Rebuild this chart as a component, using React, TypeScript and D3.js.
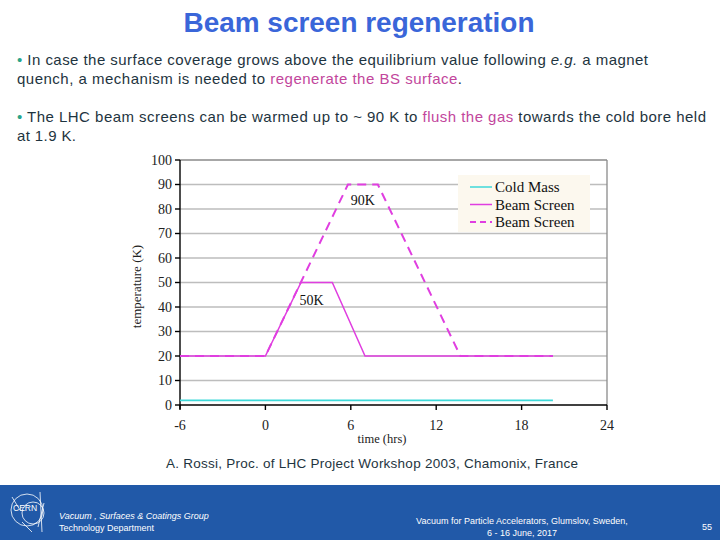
import React from "react";
import * as d3 from "d3";

type Pt = { t: number; v: number };

const coldMass: Pt[] = [
  { t: -6, v: 1.9 },
  { t: 20.2, v: 1.9 },
];
const beamScreen50: Pt[] = [
  { t: -6, v: 20 },
  { t: 0, v: 20 },
  { t: 2.5, v: 50 },
  { t: 4.7, v: 50 },
  { t: 7.0, v: 20 },
  { t: 20.2, v: 20 },
];
const beamScreen90: Pt[] = [
  { t: -6, v: 20 },
  { t: 0, v: 20 },
  { t: 5.8, v: 90 },
  { t: 7.9, v: 90 },
  { t: 13.7, v: 20 },
  { t: 20.2, v: 20 },
];
const xTicks = [-6, 0, 6, 12, 18, 24];
const yTicks = [0, 10, 20, 30, 40, 50, 60, 70, 80, 90, 100];
const legendLabels = ["Cold Mass", "Beam Screen", "Beam Screen"];

const SERIF = "'Liberation Serif', 'DejaVu Serif', serif";
const SANS = "'Liberation Sans', Arial, sans-serif";

export default function App() {
  const x = d3.scaleLinear().domain([-6, 24]).range([180, 607]);
  const y = d3.scaleLinear().domain([0, 100]).range([405, 160]);
  const line = d3
    .line<Pt>()
    .x((d) => x(d.t))
    .y((d) => y(d.v));

  const textColor = "#1e3440";
  const pink = "#c2469c";
  const bullet = "#2aa58a";
  const magenta = "#e03ee0";
  const cyan = "#3fd9d9";

  const legendStyles = [
    { stroke: cyan, dash: undefined as string | undefined, w: 1.5 },
    { stroke: magenta, dash: undefined, w: 1.5 },
    { stroke: magenta, dash: "6,4", w: 2.2 },
  ];

  return (
    <svg
      width={720}
      height={540}
      style={{ position: "absolute", left: 0, top: 0, background: "#fff" }}
    >
      <rect x={0} y={0} width={720} height={540} fill="#fff" />
      {/* Title */}
      <text
        x={359}
        y={32}
        textAnchor="middle"
        fontFamily={SANS}
        fontWeight="bold"
        fontSize={27.5}
        fill="#3a66d9"
        textLength={351}
        lengthAdjust="spacingAndGlyphs"
      >
        Beam screen regeneration
      </text>
      {/* Bullets */}
      <g fontFamily={SANS} fontSize={15} fill={textColor}>
        <text x={17} y={65} textLength={631} lengthAdjust="spacing">
          <tspan fill={bullet}>•</tspan> In case the surface coverage grows above the equilibrium value following{" "}
          <tspan fontStyle="italic">e.g.</tspan> a magnet
        </text>
        <text x={17} y={84} textLength={445} lengthAdjust="spacing">
          quench, a mechanism is needed to <tspan fill={pink}>regenerate the BS surface</tspan>.
        </text>
        <text x={17} y={122} textLength={689} lengthAdjust="spacing">
          <tspan fill={bullet}>•</tspan> The LHC beam screens can be warmed up to ~ 90 K to{" "}
          <tspan fill={pink}>flush the gas</tspan> towards the cold bore held
        </text>
        <text x={17} y={141} textLength={59} lengthAdjust="spacing">
          at 1.9 K.
        </text>
      </g>

      {/* Chart gridlines */}
      <g>
        {yTicks
          .filter((v) => v > 0)
          .map((v) => (
            <line
              key={"g" + v}
              x1={x(-6)}
              x2={x(24)}
              y1={y(v)}
              y2={y(v)}
              stroke={v === 100 ? "#8a8a8a" : "#bdbdbd"}
              strokeWidth={1.3}
            />
          ))}
        <line x1={x(24)} x2={x(24)} y1={y(0)} y2={y(100)} stroke="#8a8a8a" strokeWidth={1.3} />
      </g>

      {/* Axes */}
      <g stroke="#000" strokeWidth={1.4}>
        <line x1={x(-6)} x2={x(-6)} y1={y(0) + 4} y2={y(100)} />
        <line x1={x(-6)} x2={x(24)} y1={y(0)} y2={y(0)} />
        {yTicks.map((v) => (
          <line key={"yt" + v} x1={x(-6) - 5} x2={x(-6)} y1={y(v)} y2={y(v)} />
        ))}
        {xTicks.map((t) => (
          <line key={"xt" + t} x1={x(t)} x2={x(t)} y1={y(0)} y2={y(0) + 5} />
        ))}
      </g>
      <g fontFamily={SERIF} fontSize={14} fill="#222">
        {yTicks.map((v) => (
          <text key={"yl" + v} x={x(-6) - 8} y={y(v) + 4.5} textAnchor="end">
            {v}
          </text>
        ))}
        {xTicks.map((t) => (
          <text key={"xl" + t} x={x(t)} y={y(0) + 25} textAnchor="middle">
            {t}
          </text>
        ))}
        <text x={382} y={443} textAnchor="middle" fontSize={12.5}>
          time (hrs)
        </text>
        <text
          transform={`translate(141, ${y(50) + 4}) rotate(-90)`}
          textAnchor="middle"
          fontSize={13}
        >
          temperature (K)
        </text>
      </g>

      {/* Series */}
      <path d={line(coldMass) || ""} fill="none" stroke={cyan} strokeWidth={1.6} />
      <path d={line(beamScreen50) || ""} fill="none" stroke={magenta} strokeWidth={1.5} />
      <path
        d={line(beamScreen90) || ""}
        fill="none"
        stroke={magenta}
        strokeWidth={2}
        strokeDasharray="9,6"
      />

      {/* Annotations */}
      <g fontFamily={SERIF} fontSize={14} fill="#111">
        <text x={x(6.0)} y={y(81.5)}>
          90K
        </text>
        <text x={x(2.4)} y={y(41)}>
          50K
        </text>
      </g>

      {/* Legend */}
      <g>
        <rect x={458} y={175} width={132} height={57} fill="#fcf8ee" />
        {legendLabels.map((lab, i) => {
          const yy = 187 + i * 17.5;
          const s = legendStyles[i];
          return (
            <g key={"lg" + i}>
              <line
                x1={470}
                x2={492}
                y1={yy}
                y2={yy}
                stroke={s.stroke}
                strokeWidth={s.w}
                strokeDasharray={s.dash}
              />
              <text x={495} y={yy + 5} fontFamily={SERIF} fontSize={15} fill="#111">
                {lab}
              </text>
            </g>
          );
        })}
      </g>

      {/* Caption */}
      <text
        x={372}
        y={468}
        textAnchor="middle"
        fontFamily={SANS}
        fontSize={13.5}
        fill={textColor}
        textLength={412}
        lengthAdjust="spacing"
      >
        A. Rossi, Proc. of LHC Project Workshop 2003, Chamonix, France
      </text>

      {/* Footer */}
      <rect x={0} y={485} width={720} height={55} fill="#2159a8" />
      <g stroke="#fff" strokeWidth={0.8} fill="none">
        <circle cx={27} cy={510} r={16} />
        <circle cx={33} cy={513} r={11} />
        <path d="M40 492 L42 532 M44 503 L38 527" />
        <path d="M12 497 L20 510 M22 522 L32 532" />
      </g>
      <text x={13} y={511} fontFamily={SANS} fontSize={8.5} fill="#fff">
        CERN
      </text>
      <g fontFamily={SANS} fontSize={9} fill="#fff">
        <text x={59} y={519} fontStyle="italic">
          Vacuum , Surfaces &amp; Coatings Group
        </text>
        <text x={59} y={531}>
          Technology Department
        </text>
        <text x={522} y={524} textAnchor="middle">
          Vacuum for Particle Accelerators, Glumslov, Sweden,
        </text>
        <text x={522} y={536} textAnchor="middle">
          6 - 16 June, 2017
        </text>
        <text x={707} y={530} textAnchor="middle">
          55
        </text>
      </g>
    </svg>
  );
}
